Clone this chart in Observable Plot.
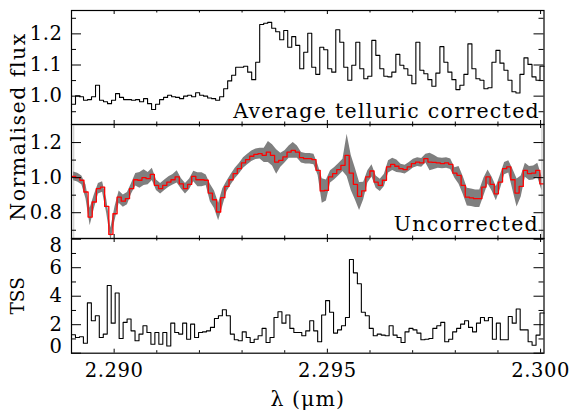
<!DOCTYPE html>
<html><head><meta charset="utf-8">
<script src="https://cdn.jsdelivr.net/npm/d3@7"></script>
<script src="https://cdn.jsdelivr.net/npm/@observablehq/plot@0.6"></script>
<style>
body{margin:0;background:#fff;}
#chart{width:572px;height:416px;}
#chart svg{display:block;overflow:visible;}
</style></head><body><div id="chart"></div>
<script>
// ---- data ----
const lambdaRange = [2.2890, 2.30008];
const xMajor = [2.290, 2.295, 2.300];
const xMinor = [2.291, 2.292, 2.293, 2.294, 2.296, 2.297, 2.298, 2.299];

const fluxCorrected = [0.974,1.001,0.998,0.987,0.989,0.998,1.035,0.987,0.982,0.976,
 0.987,1.008,0.996,0.989,0.989,0.987,0.989,0.982,0.992,0.976,
 0.957,0.974,0.989,0.996,1.003,0.998,0.996,0.992,1.000,1.003,
 0.998,1.011,1.003,1.000,0.994,0.992,0.987,0.998,1.024,1.049,
 1.067,1.093,1.093,1.096,1.077,1.053,1.109,1.230,1.234,1.237,
 1.218,1.207,1.181,1.211,1.157,1.191,1.163,1.088,1.141,1.202,
 1.093,1.070,1.157,1.149,1.088,1.077,1.213,1.173,1.093,1.051,
 1.099,1.173,1.088,1.056,1.064,1.179,1.131,1.088,1.064,1.062,
 1.077,1.134,1.099,1.088,1.067,1.040,1.173,1.083,1.072,1.053,
 1.032,1.074,1.159,1.109,1.077,1.053,1.021,1.035,1.070,1.168,
 1.088,1.056,1.051,1.024,1.027,1.109,1.147,1.106,1.083,1.051,
 1.014,1.010,1.070,1.123,1.102,1.062,1.051,1.096];

const fluxUncorrected = [1.007,1.000,0.985,0.918,0.775,0.861,0.937,0.946,0.836,0.676,
 0.794,0.889,0.866,0.880,0.937,0.988,0.985,1.000,0.994,1.019,
 0.956,0.937,0.956,0.975,0.988,1.004,0.965,0.937,0.962,1.007,
 0.988,0.988,0.985,0.912,0.874,0.804,0.886,0.950,0.988,1.023,
 1.051,1.084,1.103,1.122,1.133,1.137,1.127,1.146,1.127,1.089,
 1.099,1.118,1.146,1.156,1.146,1.114,1.108,1.108,1.103,1.042,
 0.924,0.927,1.004,1.023,1.046,1.070,1.127,1.026,0.962,0.893,
 0.924,1.004,1.038,0.975,0.956,0.985,1.061,1.076,1.065,1.051,
 1.046,1.061,1.080,1.089,1.084,1.108,1.089,1.087,1.084,1.080,
 1.084,1.076,1.026,1.013,0.956,0.889,0.885,0.880,0.880,0.946,
 1.004,0.962,0.908,0.975,1.051,1.061,0.988,0.912,0.950,1.042,
 1.023,1.026,1.042,0.965];

const fluxUncorrectedErr = [0.025,0.025,0.025,0.040,0.050,0.040,0.030,0.030,0.040,0.035,
 0.040,0.035,0.035,0.035,0.030,0.035,0.045,0.045,0.035,0.035,
 0.030,0.030,0.030,0.030,0.030,0.035,0.030,0.030,0.030,0.030,
 0.040,0.040,0.030,0.050,0.050,0.050,0.050,0.030,0.030,0.030,
 0.030,0.030,0.030,0.030,0.030,0.030,0.040,0.060,0.060,0.070,
 0.040,0.035,0.035,0.045,0.035,0.030,0.030,0.030,0.030,0.030,
 0.070,0.060,0.035,0.035,0.035,0.035,0.120,0.100,0.090,0.080,
 0.050,0.035,0.035,0.035,0.035,0.035,0.035,0.035,0.035,0.025,
 0.025,0.025,0.025,0.025,0.025,0.025,0.050,0.040,0.030,0.030,
 0.030,0.030,0.030,0.050,0.050,0.050,0.050,0.050,0.050,0.050,
 0.040,0.040,0.040,0.040,0.035,0.035,0.060,0.080,0.060,0.040,
 0.040,0.040,0.040,0.040];

const tss = [1.29,1.10,1.15,0.70,3.53,2.28,2.63,1.10,1.34,4.75,
 2.11,4.23,1.03,2.16,2.40,1.57,0.87,1.34,1.93,1.45,
 0.63,1.45,0.63,1.45,0.51,2.11,1.45,1.34,2.11,0.98,
 2.04,1.10,1.45,1.50,1.57,1.81,2.44,2.63,3.05,2.63,
 1.34,0.94,0.87,1.50,1.10,0.75,0.98,1.22,1.74,0.75,
 1.10,2.51,2.91,2.11,2.68,1.74,1.45,1.45,1.22,1.57,
 2.28,1.57,0.80,2.68,3.69,2.87,1.41,1.64,1.93,2.51,
 6.58,5.64,4.87,2.87,2.63,1.74,1.22,1.34,1.27,1.22,
 1.93,1.27,1.10,0.75,1.50,1.74,1.64,1.41,0.94,0.98,
 1.03,1.74,1.93,2.16,0.80,0.98,1.50,1.74,2.04,2.28,
 1.81,1.50,2.11,2.51,2.28,2.51,0.98,2.11,0.94,0.94,
 2.58,2.11,3.10,1.64,1.64,0.80,0.56,1.27,2.82];

const p1Domain = [0.909, 1.275], p1Major = [1.0, 1.1, 1.2], p1Minor = [0.95, 1.05, 1.15, 1.25];
const p2Domain = [0.653, 1.303], p2Major = [0.8, 1.0, 1.2], p2Minor = [0.7, 0.9, 1.1];
const p3Domain = [0, 8.05], p3Major = [0, 2, 4, 6, 8], p3Minor = [1, 3, 5, 7];

const panelLabels = ["Average telluric corrected", "Uncorrected"];
const yTitles = ["Normalised flux", "TSS"];
const xTitle = "λ (μm)";

// ---- helpers ----
const W = 572, mL = 71, mR = 28.5;
const frameW = W - mL - mR;
const FONT = "DejaVu Serif, serif";

function stepTable(values) {
  const n = values.length, w = (lambdaRange[1] - lambdaRange[0]) / n;
  const rows = values.map((v, i) => ({lambda: lambdaRange[0] + i * w, v}));
  rows.push({lambda: lambdaRange[1], v: values[n - 1]});
  return rows;
}
function bandTable(values, err) {
  const n = values.length, w = (lambdaRange[1] - lambdaRange[0]) / n;
  return values.map((v, i) => ({lambda: lambdaRange[0] + (i + 0.5) * w, lo: v - err[i], hi: v + err[i]}));
}

function axisMarks(frameH, yMajor, yMinor) {
  const id = d => d;
  return [
    Plot.tickX(xMajor, {x: id, insetTop: frameH - 4, stroke: "black"}),
    Plot.tickX(xMajor, {x: id, insetBottom: frameH - 4, stroke: "black"}),
    Plot.tickX(xMinor, {x: id, insetTop: frameH - 2.5, stroke: "black"}),
    Plot.tickX(xMinor, {x: id, insetBottom: frameH - 2.5, stroke: "black"}),
    Plot.tickY(yMajor, {y: id, insetRight: frameW - 10, stroke: "black"}),
    Plot.tickY(yMajor, {y: id, insetLeft: frameW - 10, stroke: "black"}),
    Plot.tickY(yMinor, {y: id, insetRight: frameW - 5, stroke: "black"}),
    Plot.tickY(yMinor, {y: id, insetLeft: frameW - 5, stroke: "black"}),
    Plot.frame({stroke: "black", strokeWidth: 1.2})
  ];
}

function panel({height, marginTop = 0, marginBottom = 0, yDomain, yMajor, yMinor, marks}) {
  const frameH = height - marginTop - marginBottom;
  return Plot.plot({
    width: W, height, marginTop, marginBottom, marginLeft: mL, marginRight: mR,
    x: {domain: lambdaRange, axis: null},
    y: {domain: yDomain, axis: null},
    style: {fontFamily: FONT, fontSize: "20px", color: "black", background: "transparent", overflow: "visible"},
    marks: [...marks, ...axisMarks(frameH, yMajor, yMinor)]
  });
}

const tickLabelStyle = {frameAnchor: "left", textAnchor: "end", lineAnchor: "middle", dx: -9, fontSize: 19.5};

// ---- panel 1 ----
const p1 = panel({
  height: 124, marginTop: 10, yDomain: p1Domain, yMajor: p1Major, yMinor: p1Minor,
  marks: [
    Plot.line(stepTable(fluxCorrected), {x: "lambda", y: "v", curve: "step-after", stroke: "black", strokeWidth: 1.1}),
    Plot.text(p1Major, {y: d => d, text: d3.format(".1f"), ...tickLabelStyle}),
    Plot.text([panelLabels[0]], {text: d => d, frameAnchor: "bottom-right", textAnchor: "end", lineAnchor: "bottom", dx: -4, dy: -7, fontSize: 20.5})
  ]
});

// ---- panel 2 ----
const band = bandTable(fluxUncorrected, fluxUncorrectedErr);
const p2 = panel({
  height: 114, yDomain: p2Domain, yMajor: p2Major, yMinor: p2Minor,
  marks: [
    Plot.ruleX([band[0], band[band.length - 1]], {x: "lambda", stroke: "#d4d4d4", strokeWidth: 1.5}),
    Plot.areaY(band, {x: "lambda", y1: "lo", y2: "hi", curve: "linear", fill: "#7f7f7f", clip: true}),
    Plot.line(stepTable(fluxUncorrected), {x: "lambda", y: "v", curve: "step-after", stroke: "#ff0000", strokeWidth: 1.3, clip: true}),
    Plot.text(p2Major, {y: d => d, text: d3.format(".1f"), ...tickLabelStyle}),
    Plot.text([panelLabels[1]], {text: d => d, frameAnchor: "bottom-right", textAnchor: "end", lineAnchor: "bottom", dx: -5, dy: -8, fontSize: 20.5}),
    Plot.text([yTitles[0]], {text: d => d, frameAnchor: "top-left", textAnchor: "middle", lineAnchor: "middle", dx: -53, dy: 2, rotate: -90, fontSize: 20.5})
  ]
});

// ---- panel 3 ----
const p3 = panel({
  height: 178, marginBottom: 63.3, yDomain: p3Domain, yMajor: p3Major, yMinor: p3Minor,
  marks: [
    Plot.line(stepTable(tss), {x: "lambda", y: "v", curve: "step-after", stroke: "black", strokeWidth: 1.1}),
    Plot.text(p3Major.filter(d => d > 0 && d < 8), {y: d => d, text: d => String(d), ...tickLabelStyle}),
    Plot.text([8], {y: d => d, text: d => String(d), ...tickLabelStyle, dy: 7}),
    Plot.text([0], {y: d => d, text: d => String(d), ...tickLabelStyle, dy: -6}),
    Plot.text(xMajor, {x: d => d, text: d3.format(".3f"), frameAnchor: "bottom", textAnchor: "middle", lineAnchor: "top", dy: 10, fontSize: 19.5}),
    Plot.text([xTitle], {text: d => d, frameAnchor: "bottom", textAnchor: "middle", lineAnchor: "middle", dy: 46, fontSize: 20.5}),
    Plot.text([yTitles[1]], {text: d => d, frameAnchor: "left", textAnchor: "middle", lineAnchor: "middle", dx: -53, rotate: -90, fontSize: 18.5})
  ]
});

const root = document.getElementById("chart");
root.append(p1, p2, p3);

// letter spacing to mimic the wide vector font of the original
const spacing = new Map([
  [panelLabels[0], "1.3px"], [panelLabels[1], "1.3px"],
  [yTitles[0], "1.5px"], [yTitles[1], "0px"], [xTitle, "1px"]
]);
d3.select(root).selectAll("text").each(function () {
  const t = this.textContent;
  this.style.letterSpacing = spacing.has(t) ? spacing.get(t) : "0.6px";
});
</script></body></html>
